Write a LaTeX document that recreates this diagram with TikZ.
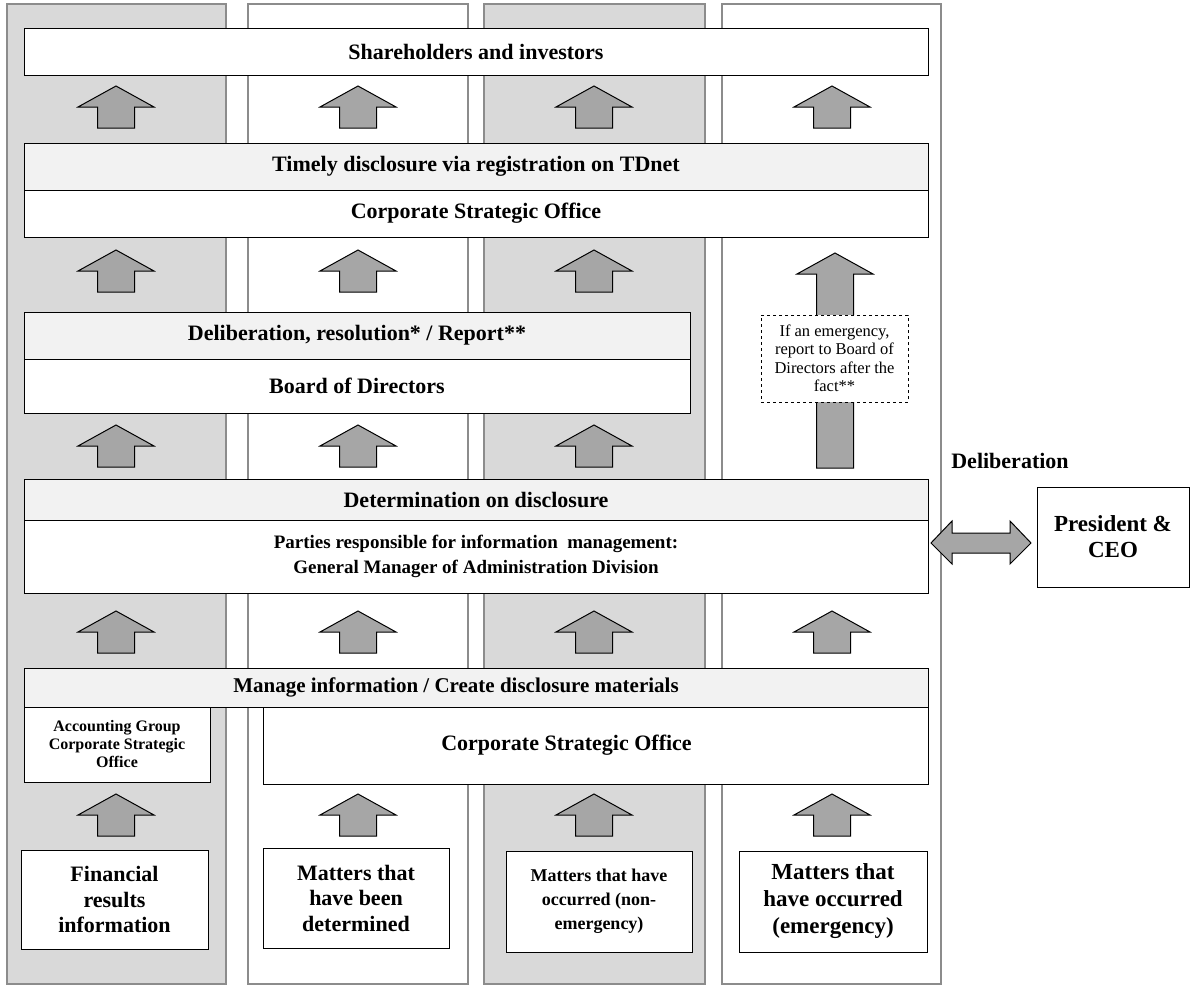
\documentclass[tikz,border=0pt]{standalone}
\usepackage{fontspec}
\setmainfont{Liberation Serif}
\usetikzlibrary{calc}
\definecolor{lanefill}{HTML}{D9D9D9}
\definecolor{laneline}{HTML}{8C8C8C}
\definecolor{bandfill}{HTML}{F2F2F2}
\definecolor{arrfill}{HTML}{A6A6A6}
\tikzset{
  lane/.style={draw=laneline,line width=2.5pt,anchor=north west,inner sep=0,outer sep=0},
  box/.style={draw,line width=1pt,fill=white,anchor=north west,inner sep=0,outer sep=0,align=center,font=\bfseries\fontsize{22}{25}\selectfont},
  band/.style={box,fill=bandfill},
  blockarr/.style={draw,line width=1pt,fill=arrfill,line join=miter}
}
% up arrow: centre x, bottom y, length
\newcommand{\blockup}[3][42]{\draw[blockarr] (#2-18.5,#3) -- (#2-18.5,#3-#1+21) -- (#2-38,#3-#1+21) -- (#2,#3-#1) -- (#2+38,#3-#1+21) -- (#2+18.5,#3-#1+21) -- (#2+18.5,#3) -- cycle;}
\begin{document}
\begin{tikzpicture}[x=1pt,y=-1pt]
\useasboundingbox (0,0) rectangle (1191,988);
\node[lane,fill=lanefill,minimum width=219pt,minimum height=980pt] (lane1) at (7,4) {};
\node[lane,fill=white,minimum width=220pt,minimum height=980pt] (lane2) at (248,4) {};
\node[lane,fill=lanefill,minimum width=221pt,minimum height=980pt] (lane3) at (484,4) {};
\node[lane,fill=white,minimum width=219pt,minimum height=980pt] (lane4) at (722,4) {};

\node[box,minimum width=904pt,minimum height=47pt] (share) at (24,28) {Shareholders and investors};
\node[band,minimum width=904pt,minimum height=47pt] (tdnet) at (24,143) {Timely disclosure via registration on TDnet};
\node[box,minimum width=904pt,minimum height=47pt] (cso) at (24,190) {Corporate Strategic Office};
\node[band,minimum width=666pt,minimum height=47pt] (delib) at (24,312) {Deliberation, resolution* / Report**};
\node[box,minimum width=666pt,minimum height=54pt] (board) at (24,359) {Board of Directors};
\node[band,minimum width=904pt,minimum height=41pt] (determ) at (24,479) {Determination on disclosure};
\node[box,minimum width=904pt,minimum height=73pt,font=\bfseries\fontsize{19}{25}\selectfont] (parties) at (24,520)
  {Parties responsible for information\ \ management:\\General\ Manager\ of\ Administration\ Division};
\node[band,minimum width=904pt,minimum height=39pt,font=\bfseries\fontsize{21}{24}\selectfont] (manage) at (24,668)
  {Manage information / Create disclosure materials\hspace*{40pt}};
\node[box,minimum width=186pt,minimum height=75pt,font=\bfseries\fontsize{16}{18}\selectfont] (acct) at (24,707)
  {Accounting Group\\Corporate Strategic\\Office};
\node[box,minimum width=665pt,minimum height=77pt] (cso2) at (263,707) {Corporate Strategic Office\hspace*{58pt}};

\node[box,minimum width=187pt,minimum height=99pt,font=\bfseries\fontsize{22}{25.5}\selectfont] (fin) at (21,850) {Financial\\results\\information};
\node[box,minimum width=186pt,minimum height=100pt,font=\bfseries\fontsize{22}{25.5}\selectfont] (decided) at (263,848) {Matters that\\have been\\determined};
\node[box,minimum width=186pt,minimum height=101pt,font=\bfseries\fontsize{18}{24}\selectfont] (nonemerg) at (506,851) {Matters that have\\occurred (non-\\emergency)};
\node[box,minimum width=188pt,minimum height=101pt,font=\bfseries\fontsize{23}{27}\selectfont] (emerg) at (739,851) {Matters that\\have occurred\\(emergency)};

\foreach \cx in {116,358,594,832} {
  \blockup{\cx}{128}
  \blockup{\cx}{653}
  \blockup{\cx}{836}
}
\foreach \cx in {116,358,594} {
  \blockup{\cx}{292}
  \blockup{\cx}{467}
}
\blockup[215]{835}{468}
\node[box,dashed,minimum width=147pt,minimum height=87pt,font=\fontsize{16.5}{18.5}\selectfont] (note) at (761,315)
  {If an emergency,\\report to Board of\\Directors after the\\fact**};

\node[box,draw=none,fill=none,anchor=center,font=\bfseries\fontsize{22}{24}\selectfont] (delibl) at (1010,461) {Deliberation};
\node[box,minimum width=152pt,minimum height=100pt,font=\bfseries\fontsize{23}{26}\selectfont] (ceo) at (1037,487) {President \&\\CEO};

\path (parties.east |- ceo.west) ++(3,6) coordinate (dl);
\path (ceo.west) ++(-6,6) coordinate (dr);
\draw[blockarr] (dl) -- ++(21,-22) -- ++(0,12) -- ($(dr)+(-21,-10)$) -- ++(0,-12) -- (dr) -- ++(-21,21)
  -- ++(0,-11) -- ($(dl)+(21,10)$) -- ++(0,11) -- cycle;
\end{tikzpicture}
\end{document}
